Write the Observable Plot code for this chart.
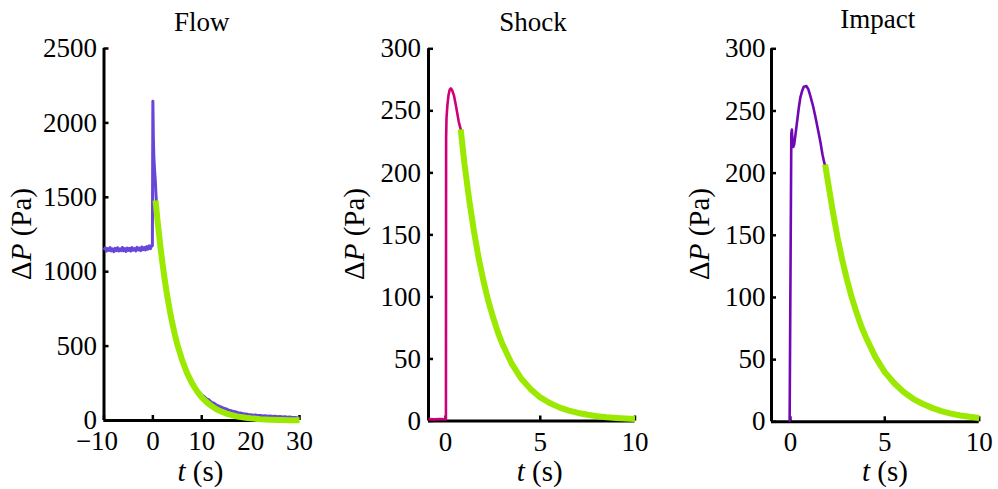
<!DOCTYPE html>
<html><head><meta charset="utf-8">
<script src="https://cdn.jsdelivr.net/npm/d3@7"></script>
<script src="https://cdn.jsdelivr.net/npm/@observablehq/plot@0.6"></script>
<style>
body{margin:0;background:#fff}
#wrap{position:relative;width:998px;height:489px;overflow:hidden}
#wrap svg{position:absolute;top:0}
</style>
</head><body><div id="wrap"></div>
<script>
// ---------- data ----------
const titles = ["Flow", "Shock", "Impact"];

// Flow: measured pressure
const flowT = [-10,-9.75,-9.5,-9.25,-9,-8.75,-8.5,-8.25,-8,-7.75,-7.5,-7.25,-7,-6.75,-6.5,-6.25,-6,-5.75,-5.5,-5.25,-5,-4.75,-4.5,-4.25,-4,-3.75,-3.5,-3.25,-3,-2.75,-2.5,-2.25,-2,-1.75,-1.5,-1.25,-1,-0.75,-0.5,-0.25,-0.1,
  0,0.1,0.2,0.35,0.5,0.6,0.7,1,1.5,2,2.5,3,3.5,4,4.5,5,6,7,8,9,10,
  10.5,11,11.5,12,12.5,13,13.5,14,14.5,15,15.5,16,16.5,17,17.5,18,18.5,19,19.5,20,20.5,21,21.5,22,22.5,23,23.5,24,24.5,25,25.5,26,26.5,27,27.5,28,28.5,29,29.5,30];
const flowP = [1146,1160,1138,1155,1143,1162,1140,1153,1135,1157,1142,1161,1139,1154,1141,1163,1140,1155,1136,1159,1143,1157,1139,1162,1145,1156,1140,1164,1146,1159,1142,1166,1148,1162,1146,1169,1152,1174,1155,1176,1175,
  2146,1900,1770,1680,1610,1540,1480,1340,1185,1050,932,828,735,652,580,515,410,325,262,210,172,
  160,146,138,122,116,104,97,90,82,78,70,66,60,57,51,50,45,44,40,39,36,37,33,34,31,32,29,31,27,29,26,27,24,25,22,23,20,21,18,17];
// Flow: exponential fit
const flowFitT = [0.55,1,1.5,2,2.5,3,3.5,4,4.5,5,6,7,8,9,10,11,12,13,14,15,16,17,18,19,20,22,24,26,28,30];
const flowFitP = [1478,1328,1179,1047,929,825,732,650,577,512,404,318,251,198,156,123,97,76,60,47,37,29,23,18,14.4,9,5.6,3.5,2.2,1.4];

// Shock: measured pressure
const shockT = [-0.9,-0.6,-0.3,-0.05,0.02,0.03,0.05,0.1,0.16,0.22,0.28,0.35,0.45,0.55,0.63,0.7,0.8,0.9,1,1.25,1.5,1.75,2,2.5,3,3.5,4,4.5,5,6,7,8,9,10];
const shockP = [1.5,1.3,1.5,1.4,1.5,228,244,255,263,267,268,266.5,262,254,247,241,235,221,208,178,153,131,113,84,62,46,34,25,18.5,10.5,6,3.8,2.4,1.6];
// Shock: exponential fit
const shockFitT = [0.8,1,1.25,1.5,1.75,2,2.25,2.5,2.75,3,3.5,4,4.5,5,5.5,6,6.5,7,7.5,8,8.5,9,9.5,10];
const shockFitP = [235,207,178,153,131,113,97,84,72,62,46,34,25.5,19,14.5,11,8.4,6.5,5,3.9,3.1,2.5,2,1.6];

// Impact: measured pressure
const impactT = [-0.04,0.05,0.08,0.11,0.15,0.2,0.27,0.36,0.45,0.53,0.62,0.71,0.85,0.95,1.06,1.2,1.33,1.46,1.59,1.7,1.8,1.9,2,2.5,3,3.5,4,5,6,7,8,9,10];
const impactP = [0,232,235,226,221,223,231,242,253,261,266,269.5,270,267.5,262,254,245,235,225,215,208,203,193,148,114,88,68,41,24.5,14.7,8.8,5.3,3.2];
// Impact: exponential fit
const impactFitT = [1.84,2,2.25,2.5,2.75,3,3.25,3.5,3.75,4,4.5,5,5.5,6,6.5,7,7.5,8,8.5,9,9.5,10];
const impactFitP = [207,192,169,148,130,114,100,88,77,68,52,40,31,24,18.5,14.5,11.2,8.6,6.6,5.1,4,3.1];

// axes
const flowXTicks = [-10,0,10,20,30];
const flowYTicks = [0,500,1000,1500,2000,2500];
const shortXTicks = [0,5,10];
const shortYTicks = [0,50,100,150,200,250,300];

// ---------- drawing ----------
const FONT = "'Liberation Serif','Times New Roman',serif";
const FS = 27;
const FIT = "#9be800";
const rows = (t, p) => t.map((v, i) => ({t: v, p: p[i]}));
const fmt = d => (d < 0 ? "\u2212" : "") + Math.abs(d);

function panel(cfg) {
  const H = 489;
  const fw = cfg.width - cfg.ml - cfg.mr, fh = H - cfg.mt - cfg.mb;
  const neg = cfg.xTicks.filter(d => d < 0), pos = cfg.xTicks.filter(d => d >= 0);
  const at = {tickSize: 0, fontSize: FS, label: null, fontFamily: FONT, tickFormat: fmt};
  const marks = [
    Plot.ruleY([0], {stroke: "#000", strokeWidth: 3}),
    Plot.ruleX([cfg.xDomain[0]], {stroke: "#000", strokeWidth: 3}),
    Plot.ruleX(cfg.xTicks, {insetTop: fh - 5, stroke: "#000", strokeWidth: 2.5}),
    Plot.ruleY(cfg.yTicks, {insetRight: fw - 5, stroke: "#000", strokeWidth: 2.5}),
    Plot.axisX(pos, {...at, tickPadding: 10.5}),
    Plot.axisY(cfg.yTicks, {...at, tickPadding: cfg.yPad})
  ];
  if (neg.length) marks.push(Plot.axisX(neg, {...at, tickPadding: 10.5, dx: -7}));
  marks.push(Plot.line(rows(cfg.t, cfg.p), {x: "t", y: "p", stroke: cfg.color, strokeWidth: cfg.sw, strokeLinejoin: "round", strokeLinecap: "butt"}));
  marks.push(Plot.line(rows(cfg.ft, cfg.fp), {x: "t", y: "p", stroke: FIT, strokeWidth: 6, strokeLinejoin: "round", strokeLinecap: "butt"}));
  const el = Plot.plot({
    width: cfg.width, height: H,
    marginLeft: cfg.ml, marginRight: cfg.mr, marginTop: cfg.mt, marginBottom: cfg.mb,
    style: {fontFamily: FONT, fontSize: FS + "px", color: "#000", background: "transparent", overflow: "visible"},
    x: {domain: cfg.xDomain},
    y: {domain: cfg.yDomain},
    marks
  });
  el.style.left = cfg.left + "px";
  const svg = d3.select(el);
  svg.append("text").attr("x", cfg.titleX).attr("y", cfg.titleY).attr("text-anchor", "middle")
    .attr("font-family", FONT).attr("font-size", FS).attr("fill", "#000").text(cfg.title);
  const yl = svg.append("text").attr("transform", `translate(${cfg.yLabelX},234) rotate(-90)`)
    .attr("text-anchor", "middle").attr("font-family", FONT).attr("font-size", 29).attr("fill", "#000");
  yl.append("tspan").text("Δ");
  yl.append("tspan").attr("font-style", "italic").text("P");
  yl.append("tspan").text(" (Pa)");
  const xl = svg.append("text").attr("x", cfg.xLabelX).attr("y", 481)
    .attr("text-anchor", "middle").attr("font-family", FONT).attr("font-size", 29).attr("fill", "#000");
  xl.append("tspan").attr("font-style", "italic").text("t");
  xl.append("tspan").text(" (s)");
  document.getElementById("wrap").appendChild(el);
}

panel({left: 0, width: 333, ml: 103.5, mr: 34, mt: 48, mb: 69,
  xDomain: [-10, 30], yDomain: [0, 2500], xTicks: flowXTicks, yTicks: flowYTicks, yPad: 7, sw: 3,
  t: flowT, p: flowP, ft: flowFitT, fp: flowFitP, color: "#6747d9",
  title: titles[0], titleX: 201.7, titleY: 31, yLabelX: 31, xLabelX: 200.5});
panel({left: 333, width: 333, ml: 95, mr: 31.5, mt: 48.3, mb: 68.5,
  xDomain: [-0.9, 10], yDomain: [0, 300], xTicks: shortXTicks, yTicks: shortYTicks, yPad: 7.5, sw: 2.6,
  t: shockT, p: shockP, ft: shockFitT, fp: shockFitP, color: "#cf0077",
  title: titles[1], titleX: 200, titleY: 30.5, yLabelX: 31, xLabelX: 206.7});
panel({left: 666, width: 332, ml: 105, mr: 19.3, mt: 48.3, mb: 67.7,
  xDomain: [-1, 10], yDomain: [0, 300], xTicks: shortXTicks, yTicks: shortYTicks, yPad: 6, sw: 2.6,
  t: impactT, p: impactP, ft: impactFitT, fp: impactFitP, color: "#7108b5",
  title: titles[2], titleX: 211.7, titleY: 28, yLabelX: 43, xLabelX: 219});
</script>
</body></html>
